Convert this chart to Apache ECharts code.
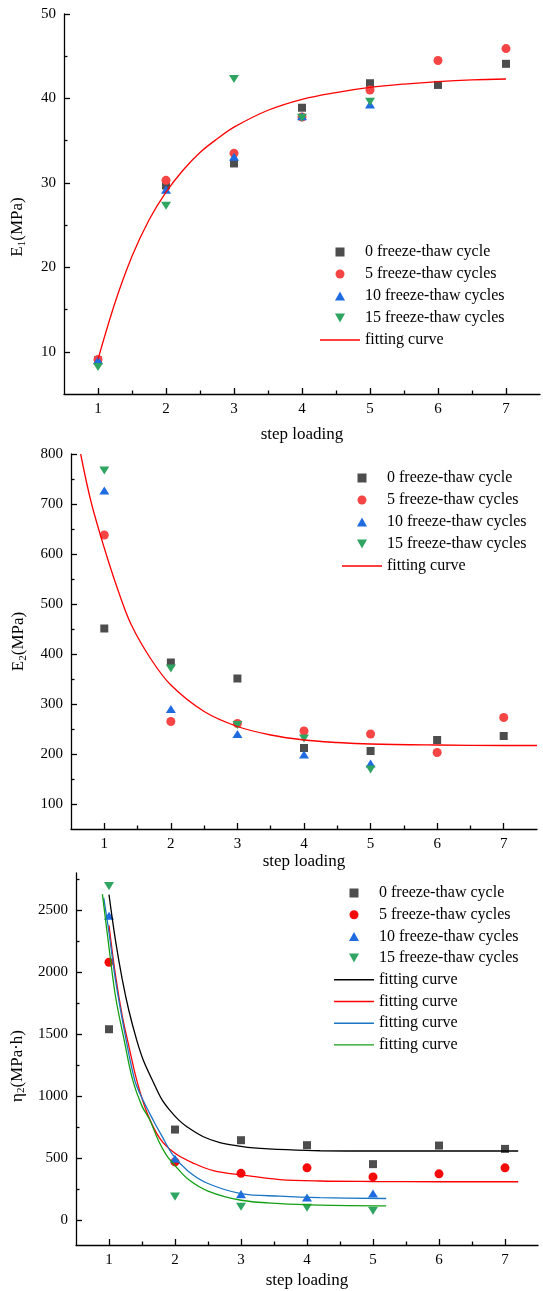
<!DOCTYPE html>
<html><head><meta charset="utf-8">
<script src="https://cdn.jsdelivr.net/npm/echarts@6/dist/echarts.min.js"></script>
<style>html,body{margin:0;padding:0;background:#fff}#c{width:543px;height:1291px}</style>
</head><body><div id="c"></div>
<script>
// ---------- data ----------
const steps = [1, 2, 3, 4, 5, 6, 7];
const steps5 = [1, 2, 3, 4, 5];
const xMajorTicks = [1, 2, 3, 4, 5, 6, 7];
const xMinorTicks = [1.5, 2.5, 3.5, 4.5, 5.5, 6.5];

// Chart 1: E1 (MPa)
const e1_0 = [9.0, 29.7, 32.3, 38.9, 41.8, 41.6, 44.1];
const e1_5 = [9.1, 30.3, 33.5, 37.8, 41.0, 44.5, 45.9];
const e1_10 = [9.0, 29.2, 33.1, 37.9, 39.3];
const e1_15 = [8.2, 27.3, 42.3, 37.7, 39.6];
const fit1X = [1, 1.25, 1.5, 1.75, 2, 2.25, 2.5, 2.75, 3, 3.5, 4, 4.5, 5, 5.5, 6, 6.5, 7];
const fit1Y = [9.1, 15.8, 21.3, 25.6, 28.9, 31.5, 33.6, 35.2, 36.6, 38.6, 39.9, 40.7, 41.3, 41.7, 42.0, 42.2, 42.3];
const y1Labels = [10, 20, 30, 40, 50];
const y1Minor = [15, 25, 35, 45];

// Chart 2: E2 (MPa)
const e2_0 = [451, 383, 351, 212, 206, 228, 236];
const e2_5 = [638, 265, 261, 246, 240, 203, 273];
const e2_10 = [727, 290, 240, 199, 181];
const e2_15 = [767, 371, 258, 231, 169];
const fit2X = [0.645, 0.8, 1, 1.2, 1.4, 1.7, 2, 2.5, 3, 3.5, 4, 4.5, 5, 6, 7, 7.5];
const fit2Y = [800, 705, 612, 530, 460, 390, 338, 285, 255, 238, 228, 223, 220, 218, 217, 217];
const y2Labels = [100, 200, 300, 400, 500, 600, 700, 800];
const y2Minor = [150, 250, 350, 450, 550, 650, 750];

// Chart 3: eta2 (MPa·h)
const eta_0 = [1540, 731, 645, 605, 452, 602, 575];
const eta_5 = [2080, 470, 378, 422, 349, 374, 422];
const eta_10 = [2455, 496, 210, 183, 215];
const eta_15 = [2694, 190, 108, 100, 75];
const fitBlackX = [1, 1.1, 1.2, 1.3, 1.42, 1.52, 1.67, 1.8, 1.92, 2.05, 2.18, 2.43, 2.68, 3.0, 3.19, 3.69, 4.2, 5, 6, 7.2];
const fitBlackY = [2625, 2250, 1944, 1693, 1452, 1290, 1115, 974, 887, 811, 754, 673, 626, 596, 584, 569, 560, 558, 558, 558];
const fitRedX = [1, 1.1, 1.2, 1.29, 1.42, 1.57, 1.77, 2.0, 2.3, 2.58, 3.0, 3.59, 4.2, 5, 6, 7.2];
const fitRedY = [2379, 1970, 1650, 1430, 1129, 875, 660, 540, 455, 400, 365, 328, 316, 312, 310, 310];
const fitBlueX = [0.92, 1.0, 1.1, 1.26, 1.39, 1.5, 1.67, 1.8, 1.97, 2.2, 2.5, 3.0, 3.59, 4.2, 5.2];
const fitBlueY = [2600, 2320, 1930, 1452, 1129, 985, 806, 680, 524, 395, 296, 215, 194, 182, 175];
const fitGreenX = [0.9, 1.0, 1.1, 1.23, 1.36, 1.5, 1.62, 1.75, 1.87, 2.0, 2.2, 2.5, 3.0, 3.59, 4.2, 5.2];
const fitGreenY = [2630, 2200, 1800, 1452, 1129, 920, 806, 640, 524, 440, 330, 235, 161, 134, 122, 116];
const y3Labels = [0, 500, 1000, 1500, 2000, 2500];
const y3Minor = [250, 750, 1250, 1750, 2250, 2750];

const legendLabels = {
  s0: '0 freeze-thaw cycle', s5: '5 freeze-thaw cycles',
  s10: '10 freeze-thaw cycles', s15: '15 freeze-thaw cycles', fit: 'fitting curve'
};

// ---------- styling ----------
const F = 'Liberation Serif';
const C = { sq: '#4d4d4d', ci: '#f54545', ci3: '#f50a0a', up: '#1f6be0', dn: '#30a562' };
const SQUARE = 'path://M0,0H8V8H0Z';
const UP_TRI = 'path://M5,0L10,9L0,9Z';
const DOWN_TRI = 'path://M0,0L10,0L5,9Z';
const LINE_ICON = 'path://M0,0H40V1.4H0Z';
const zip = (xs, ys) => xs.map((x, i) => [x, ys[i]]);

function xMain(grid, gap) {
  return {
    type: 'value', gridIndex: grid, min: 0.5, max: 7.5, position: 'bottom',
    name: 'step loading', nameLocation: 'middle', nameGap: gap,
    nameTextStyle: { fontFamily: F, fontSize: 17, color: '#000' },
    axisLine: { show: true, onZero: false, lineStyle: { color: '#000', width: 1.3 } },
    axisTick: { show: true, inside: true, length: 6, customValues: xMajorTicks, lineStyle: { color: '#000', width: 1.3 } },
    axisLabel: { customValues: xMajorTicks, fontFamily: F, fontSize: 15, color: '#000', margin: 8 },
    splitLine: { show: false }
  };
}
function xMinor(grid) {
  return {
    type: 'value', gridIndex: grid, min: 0.5, max: 7.5, position: 'bottom', silent: true,
    axisLine: { show: false, onZero: false },
    axisTick: { show: true, inside: true, length: 3.5, customValues: xMinorTicks, lineStyle: { color: '#000', width: 1.3 } },
    axisLabel: { show: false }, splitLine: { show: false }
  };
}
function yMain(grid, min, max, labels, name, gap, pad) {
  return {
    type: 'value', gridIndex: grid, min, max, position: 'left',
    name, nameLocation: 'middle', nameGap: gap,
    nameTextStyle: {
      fontFamily: F, fontSize: 17, color: '#000', padding: pad,
      rich: { sub: { fontFamily: F, fontSize: 11, color: '#000', padding: [9, 0, 0, 0] } }
    },
    axisLine: { show: true, onZero: false, lineStyle: { color: '#000', width: 1.3 } },
    axisTick: { show: true, inside: true, length: 6, customValues: labels, lineStyle: { color: '#000', width: 1.3 } },
    axisLabel: { customValues: labels, fontFamily: F, fontSize: 15, color: '#000', margin: 8, formatter: v => String(v) },
    splitLine: { show: false }
  };
}
function yMinor(grid, min, max, minor) {
  return {
    type: 'value', gridIndex: grid, min, max, position: 'left', silent: true,
    axisLine: { show: false, onZero: false },
    axisTick: { show: true, inside: true, length: 3.5, customValues: minor, lineStyle: { color: '#000', width: 1.3 } },
    axisLabel: { show: false }, splitLine: { show: false }
  };
}
function scat(name, xi, xs, ys, symbol, color, size) {
  return {
    type: 'scatter', name, xAxisIndex: xi, yAxisIndex: xi, data: zip(xs, ys),
    symbol, symbolSize: size, symbolKeepAspect: true,
    itemStyle: { color, opacity: 1 }, z: 3
  };
}
function fitLine(name, xi, xs, ys, color) {
  return {
    type: 'line', name, xAxisIndex: xi, yAxisIndex: xi, data: zip(xs, ys),
    smooth: 0.35, symbol: 'none', showSymbol: false,
    lineStyle: { color, width: 1.3 }, itemStyle: { color }, z: 4
  };
}
function legend(left, top, gap, names) {
  return {
    left, top, orient: 'vertical', padding: 0, itemGap: gap, itemWidth: 40, itemHeight: 9,
    symbolKeepAspect: true, selectedMode: false,
    data: names.map(n => n.indexOf('fit') === 0 ? { name: n, icon: LINE_ICON } : { name: n }),
    textStyle: { fontFamily: F, fontSize: 16, color: '#000', lineHeight: 16 },
    formatter: n => legendLabels[n.replace(/_[0-9a-z]+$/, '')] || n
  };
}

const option = {
  animation: false,
  backgroundColor: '#fff',
  grid: [
    { left: 64, top: 14, width: 476, height: 380 },
    { left: 71, top: 454, width: 466, height: 375 },
    { left: 76, top: 873, width: 462, height: 372 }
  ],
  xAxis: [xMain(0, 32), xMinor(0), xMain(1, 23), xMinor(1), xMain(2, 27), xMinor(2)],
  yAxis: [
    yMain(0, 5, 50, y1Labels, 'E{sub|1}(MPa)', 36, [0, 46, 0, 0]), yMinor(0, 5, 50, y1Minor),
    yMain(1, 50, 800, y2Labels, 'E{sub|2}(MPa)', 42, 0), yMinor(1, 50, 800, y2Minor),
    yMain(2, -200, 2800, y3Labels, 'η{sub|2}(MPa·h)', 46, [0, 14, 0, 0]), yMinor(2, -200, 2800, y3Minor)
  ],
  legend: [
    legend(320, 244, 6, ['s0_a', 's5_a', 's10_a', 's15_a', 'fit_a']),
    legend(342, 470, 6, ['s0_b', 's5_b', 's10_b', 's15_b', 'fit_b']),
    legend(334, 885, 5.7, ['s0_c', 's5_c', 's10_c', 's15_c', 'fit_c0', 'fit_c5', 'fit_c10', 'fit_c15'])
  ],
  series: [
    scat('s0_a', 0, steps, e1_0, SQUARE, C.sq, 8),
    scat('s5_a', 0, steps, e1_5, 'circle', C.ci, 9),
    scat('s10_a', 0, steps5, e1_10, UP_TRI, C.up, [10, 9]),
    scat('s15_a', 0, steps5, e1_15, DOWN_TRI, C.dn, [10, 9]),
    fitLine('fit_a', 0, fit1X, fit1Y, '#ff0000'),

    scat('s0_b', 2, steps, e2_0, SQUARE, C.sq, 8),
    scat('s5_b', 2, steps, e2_5, 'circle', C.ci, 9),
    scat('s10_b', 2, steps5, e2_10, UP_TRI, C.up, [10, 9]),
    scat('s15_b', 2, steps5, e2_15, DOWN_TRI, C.dn, [10, 9]),
    fitLine('fit_b', 2, fit2X, fit2Y, '#ff0000'),

    scat('s0_c', 4, steps, eta_0, SQUARE, C.sq, 8),
    scat('s5_c', 4, steps, eta_5, 'circle', C.ci3, 9),
    scat('s10_c', 4, steps5, eta_10, UP_TRI, C.up, [10, 9]),
    scat('s15_c', 4, steps5, eta_15, DOWN_TRI, C.dn, [10, 9]),
    fitLine('fit_c0', 4, fitBlackX, fitBlackY, '#000000'),
    fitLine('fit_c5', 4, fitRedX, fitRedY, '#ff0000'),
    fitLine('fit_c10', 4, fitBlueX, fitBlueY, '#1a75c4'),
    fitLine('fit_c15', 4, fitGreenX, fitGreenY, '#14a014')
  ]
};
const chart = echarts.init(document.getElementById('c'), null, { renderer: 'canvas' });
chart.setOption(option);
</script>
</body></html>
